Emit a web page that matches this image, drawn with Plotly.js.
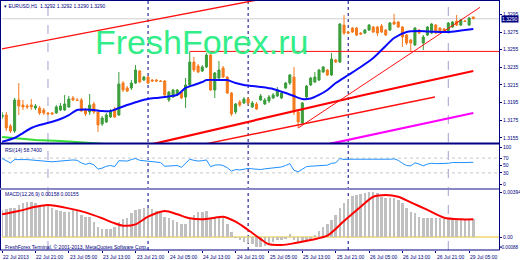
<!DOCTYPE html>
<html><head><meta charset="utf-8">
<script src="https://cdn.plot.ly/plotly-3.0.1.min.js"></script>
<style>html,body{margin:0;padding:0;background:#fff;}#chart{width:520px;height:260px;}</style>
</head><body><div id="chart"></div>
<script>
const symbol = "EURUSD,H1";
const timeLabels = ["22 Jul 2013","22 Jul 21:00","23 Jul 05:00","23 Jul 13:00","23 Jul 21:00","24 Jul 05:00","24 Jul 13:00","24 Jul 21:00","25 Jul 05:00","25 Jul 13:00","25 Jul 21:00","26 Jul 05:00","26 Jul 13:00","26 Jul 21:00","29 Jul 05:00"];
const timeLabelIdx = [0,8,16,24,32,40,48,56,64,72,80,88,96,104,112];
const daySeparators = [11,35,59,83,107];

const open = [1.31788,1.31810,1.31686,1.31629,1.31980,1.31923,1.31912,1.31923,1.31889,1.31889,
1.31867,1.31833,1.31833,1.31833,1.31867,1.31867,1.31901,1.32003,1.31980,1.31980,
1.31867,1.31844,1.31935,1.31844,1.31708,1.31731,1.31788,1.31878,1.31810,1.32172,
1.32116,1.32116,1.32172,1.32308,1.32206,1.32240,1.32206,1.32206,1.32195,1.32195,
1.31980,1.32014,1.32037,1.32070,1.32014,1.32150,1.32410,1.32365,1.32308,1.32354,
1.32489,1.32093,1.32229,1.32342,1.32240,1.32059,1.31844,1.31957,1.31946,1.31991,
1.31901,1.31935,1.31980,1.31935,1.31969,1.32003,1.32025,1.32003,1.32116,1.32172,
1.32240,1.31844,1.31720,1.32014,1.32150,1.32184,1.32206,1.32297,1.32320,1.32263,
1.32433,1.32410,1.32829,1.32750,1.32795,1.32795,1.32738,1.32738,1.32772,1.32806,
1.32806,1.32818,1.32772,1.32772,1.32863,1.32863,1.32806,1.32716,1.32659,1.32603,
1.32772,1.32625,1.32716,1.32738,1.32829,1.32795,1.32784,1.32750,1.32806,1.32874,
1.32829,1.32874,1.32829,1.3292];
const high = [1.31844,1.31844,1.31708,1.32003,1.32172,1.31980,1.31935,1.31991,1.31935,1.31912,
1.31889,1.31844,1.31844,1.31923,1.31946,1.32037,1.32025,1.32025,1.32003,1.32003,
1.31889,1.32048,1.31957,1.31867,1.31799,1.31833,1.31878,1.31901,1.32297,1.32195,
1.32138,1.32206,1.32376,1.32320,1.32252,1.32252,1.32218,1.32218,1.32206,1.32206,
1.32082,1.32104,1.32104,1.32082,1.32229,1.32530,1.32467,1.32387,1.32376,1.32512,
1.32501,1.32297,1.32421,1.32365,1.32252,1.32070,1.31946,1.31980,1.32014,1.32014,
1.31969,1.31957,1.32048,1.32003,1.32037,1.32059,1.32127,1.32082,1.32184,1.32274,
1.32354,1.31867,1.31957,1.32150,1.32240,1.32297,1.32331,1.32365,1.32331,1.32512,
1.32444,1.32852,1.32942,1.32761,1.32806,1.32806,1.32750,1.32784,1.32840,1.32818,
1.32818,1.32840,1.32784,1.32863,1.32954,1.32874,1.32818,1.32727,1.32671,1.32806,
1.32784,1.32716,1.32818,1.32852,1.32840,1.32806,1.32795,1.32863,1.32874,1.32942,
1.32897,1.32886,1.32920,1.3292];
const low = [1.31765,1.31629,1.31606,1.31606,1.31810,1.31867,1.31878,1.31867,1.31867,1.31810,
1.31810,1.31810,1.31810,1.31822,1.31855,1.31855,1.31889,1.31969,1.31969,1.31844,
1.31799,1.31810,1.31822,1.31618,1.31686,1.31720,1.31776,1.31776,1.31799,1.32070,
1.32070,1.32093,1.32161,1.32172,1.32195,1.32161,1.32184,1.32184,1.32184,1.32025,
1.31957,1.32003,1.32025,1.31991,1.31889,1.32138,1.32297,1.32286,1.32297,1.32342,
1.32082,1.32003,1.32206,1.32229,1.32048,1.31799,1.31822,1.31901,1.31935,1.31923,
1.31889,1.31867,1.31969,1.31923,1.31946,1.31991,1.32014,1.31991,1.32104,1.32150,
1.31810,1.31663,1.31708,1.31980,1.32138,1.32172,1.32195,1.32286,1.32252,1.32252,
1.32399,1.32399,1.32716,1.32727,1.32738,1.32704,1.32716,1.32727,1.32761,1.32738,
1.32704,1.32738,1.32704,1.32761,1.32829,1.32795,1.32580,1.32603,1.32523,1.32591,
1.32727,1.32546,1.32704,1.32727,1.32727,1.32738,1.32750,1.32738,1.32795,1.32818,
1.32818,1.32863,1.32818,1.3290];
const close = [1.31810,1.31663,1.31629,1.31980,1.31912,1.31901,1.31901,1.31901,1.31912,1.31833,
1.31833,1.31822,1.31822,1.31901,1.31912,1.31935,1.31991,1.31980,1.31975,1.31855,
1.31822,1.31923,1.31844,1.31697,1.31776,1.31810,1.31855,1.31788,1.32161,1.32093,
1.32082,1.32172,1.32320,1.32184,1.32240,1.32172,1.32195,1.32195,1.32190,1.32037,
1.32070,1.32093,1.32093,1.32003,1.32150,1.32410,1.32320,1.32297,1.32354,1.32489,
1.32093,1.32286,1.32320,1.32240,1.32059,1.31822,1.31935,1.31923,1.31991,1.31946,
1.31946,1.31878,1.32025,1.31980,1.32014,1.32037,1.32093,1.32059,1.32172,1.32263,
1.31844,1.31731,1.31946,1.32138,1.32229,1.32240,1.32320,1.32354,1.32263,1.32444,
1.32410,1.32840,1.32738,1.32738,1.32750,1.32716,1.32727,1.32772,1.32829,1.32750,
1.32738,1.32750,1.32716,1.32852,1.32840,1.32806,1.32693,1.32625,1.32625,1.32795,
1.32738,1.32693,1.32806,1.32840,1.32738,1.32750,1.32761,1.32852,1.32863,1.32829,
1.32886,1.32869,1.32908,1.3290];

const blueMaIdx = [0,3,5,7,9,12,14,16,18,20,22,24,26,28,30,33,35,37,39,42,44,46,48,49,52,54,56,58,60,62,65,68,70,72,74,76,78,80,83,86,89,91,94,97,100,102,105,107,110,113];
const blueMaVal = [1.31508,1.31550,1.31606,1.31663,1.31697,1.31734,1.31765,1.31810,1.31867,1.31872,1.31867,1.31855,1.31855,1.31889,1.31923,1.31969,1.31991,1.32003,1.32014,1.32037,1.32116,1.32150,1.32184,1.32206,1.32206,1.32206,1.32172,1.32150,1.32138,1.32127,1.32105,1.32059,1.32025,1.31991,1.31997,1.32037,1.32093,1.32172,1.32263,1.32354,1.32455,1.32546,1.32682,1.32750,1.32761,1.32755,1.32750,1.32750,1.32767,1.32784];
const greenMaIdx = [0,4,8,14,21,25];
const greenMaVal = [1.31561,1.31544,1.31527,1.31516,1.31499,1.31482];
const redMaIdx = [36,62,87,113];
const redMaVal = [1.31480,1.31765,1.32040,1.32308];
const magentaMaIdx = [78,95,113];
const magentaMaVal = [1.31478,1.31652,1.31833];

const channelTopIdx = [-1,62];
const channelTopVal = [1.32550,1.33120];
const channelLowIdx = [48.7,103.8];
const channelLowVal = [1.31482,1.32014];
const trendIdx = [71,114.6];
const trendVal = [1.31663,1.33029];
const resistanceIdx = [45,119.2];
const resistanceVal = [1.32530,1.32530];

const rsi = [69,62,57,66,67,66,66,65,65,63,
62,60,60,61,62,64,65,65,64,57,
53,56,52,40,43,48,50,47,63,62,
62,66,69,64,63,63,62,61,58,48,
49,50,50,45,56,67,64,62,63,65,
47,51,52,50,44,35,39,38,40,42,
41,40,39,41,42,43,45,46,50,55,
37,33,40,47,48,49,51,52,51,56,
57,69,66,67,67,66,66,66,67,66,
66,66,65,67,68,64,56,50,49,57,
54,49,54,56,55,55,55,56,58,57,
58,58,59,58.74];
const rsiLevels = [70,30];
const rsiTicks = [100,70,50,30,0];

const macdHist = [0.00237,0.00245,0.00251,0.00257,0.00280,0.00295,0.00304,0.00304,0.00295,0.00280,
0.00280,0.00274,0.00257,0.00237,0.00228,0.00216,0.00222,0.00237,0.00228,0.00193,
0.00172,0.00172,0.00134,0.00091,0.00070,0.00067,0.00067,0.00091,0.00134,0.00155,
0.00169,0.00207,0.00237,0.00245,0.00251,0.00251,0.00242,0.00228,0.00207,0.00178,
0.00164,0.00149,0.00134,0.00111,0.00111,0.00169,0.00193,0.00216,0.00222,0.00228,
0.00169,0.00164,0.00164,0.00164,0.00111,0.00047,-0.00006,-0.00026,-0.00041,-0.00055,
-0.00064,-0.00085,-0.00085,-0.00076,-0.00055,-0.00047,-0.00026,-0.00026,-0.00018,0.00023,
-0.00026,-0.00055,-0.00047,-0.00026,-0.00015,0.00015,0.00053,0.00091,0.00111,0.00149,
0.00193,0.00251,0.00295,0.00333,0.00362,0.00368,0.00374,0.00383,0.00391,0.00391,
0.00383,0.00353,0.00344,0.00344,0.00339,0.00324,0.00295,0.00251,0.00216,0.00207,
0.00178,0.00169,0.00169,0.00164,0.00164,0.00164,0.00158,0.00158,0.00158,0.00152,
0.00155,0.00158,0.00158,0.00158];
const signalIdx = [0,4,8,11,16,20,24,27,29,32,35,39,42,45,48,51,53,56,59,62,64,67,70,74,78,82,86,89,92,95,98,102,106,110,113];
const signalVal = [0.00199,0.00228,0.00265,0.00280,0.00251,0.00216,0.00164,0.00120,0.00099,0.00111,0.00178,0.00228,0.00199,0.00164,0.00155,0.00169,0.00178,0.00134,0.00061,-0.00018,-0.00064,-0.00070,-0.00055,-0.00026,0.00011,0.00140,0.00265,0.00353,0.00368,0.00353,0.00304,0.00237,0.00169,0.00155,0.00155];

const priceTicks = [1.3295,1.3275,1.3255,1.3235,1.3215,1.3195,1.3175,1.3155];
const macdTicks = [0.00394,0];
const macdTickText = ["0.00394","0.00"];
const macdMin = -0.00088;
const macdMinText = "-0.00088";

// ---- drawing ----
const NAVY = '#000080';
const F = 'Liberation Sans, Arial, sans-serif';
const idx = close.map((_, i) => i);
const last = close.length - 1;
const pxX = p => (p - 2) / 497;
const pxY = p => (250 - p) / 249;

const traces = [
  {type:'scatter', mode:'lines', x:greenMaIdx, y:greenMaVal, line:{color:'#33dd33', width:2}, hoverinfo:'skip'},
  {type:'scatter', mode:'lines', x:magentaMaIdx, y:magentaMaVal, line:{color:'#ff00ff', width:2.2}, hoverinfo:'skip'},
  {type:'scatter', mode:'lines', x:redMaIdx, y:redMaVal, line:{color:'#ff0000', width:2.2}, hoverinfo:'skip'},
  {type:'scatter', mode:'lines', x:channelLowIdx, y:channelLowVal, line:{color:'#ff1010', width:1.4}, hoverinfo:'skip'},
  {type:'scatter', mode:'lines', x:channelTopIdx, y:channelTopVal, line:{color:'#ff1010', width:1.4}, hoverinfo:'skip'},
  {type:'scatter', mode:'lines', x:trendIdx, y:trendVal, line:{color:'#ff1010', width:1}, hoverinfo:'skip'},
  {type:'scatter', mode:'lines', x:resistanceIdx, y:resistanceVal, line:{color:'#ff1010', width:1}, hoverinfo:'skip'},
  {type:'candlestick', x:idx, open:open, high:high, low:low, close:close, whiskerwidth:0,
   increasing:{line:{color:'#3a9d3a', width:1}, fillcolor:'#3a9d3a'},
   decreasing:{line:{color:'#f57a1e', width:1}, fillcolor:'#f57a1e'}, hoverinfo:'skip'},
  {type:'scatter', mode:'lines', x:blueMaIdx, y:blueMaVal, line:{color:'#0a0aff', width:2, shape:'spline', smoothing:0.6}, hoverinfo:'skip'},
  {type:'scatter', mode:'lines', x:idx, y:rsi, yaxis:'y2', line:{color:'#1e90ff', width:1}, hoverinfo:'skip'},
  {type:'bar', x:idx, y:macdHist, yaxis:'y3', marker:{color:'#c0c0c0'}, width:0.6, hoverinfo:'skip'},
  {type:'scatter', mode:'lines', x:signalIdx, y:signalVal, yaxis:'y3', line:{color:'#ff0000', width:2, shape:'spline', smoothing:0.8}, hoverinfo:'skip'}
];

const axisCommon = {side:'right', ticks:'outside', ticklen:2, tickwidth:1, tickcolor:NAVY,
  tickfont:{family:F, size:5, color:NAVY}, showgrid:false, zeroline:false, showline:false, automargin:false, fixedrange:true};

const shapes = [];
daySeparators.forEach((d, k) => {
  const light = (k === 0 || k === daySeparators.length - 1);
  shapes.push({type:'line', xref:'x', yref:'paper', x0:d, x1:d, y0:0, y1:1, layer:'below',
    line:{color: light ? '#a0a0d0' : NAVY, width:1, dash: light ? 'dash' : 'dot'}});
});
rsiLevels.forEach(v => shapes.push({type:'line', xref:'paper', yref:'y2', x0:0, x1:1, y0:v, y1:v, layer:'below', line:{color:'#c8c8c8', width:1, dash:'dot'}}));
shapes.push({type:'line', xref:'paper', yref:'y', x0:0, x1:1, y0:close[last], y1:close[last], layer:'below', line:{color:'#d0d0d0', width:1}});
shapes.push({type:'line', xref:'paper', yref:'y3', x0:0, x1:1, y0:0, y1:0, layer:'below', line:{color:'#f2d66a', width:1.5}});
shapes.push({type:'line', xref:'paper', yref:'y3', x0:1, x1:pxX(502), y0:macdMin, y1:macdMin, line:{color:NAVY, width:1}});
// frames
shapes.push({type:'line', xref:'paper', yref:'paper', x0:pxX(0.5), x1:pxX(0.5), y0:pxY(250), y1:pxY(0), line:{color:NAVY, width:1}});
shapes.push({type:'line', xref:'paper', yref:'paper', x0:pxX(0), x1:pxX(499.5), y0:pxY(0.5), y1:pxY(0.5), line:{color:NAVY, width:1}});
shapes.push({type:'line', xref:'paper', yref:'paper', x0:pxX(0), x1:pxX(499.5), y0:pxY(143.5), y1:pxY(143.5), line:{color:NAVY, width:2}});
shapes.push({type:'line', xref:'paper', yref:'paper', x0:pxX(0), x1:pxX(499.5), y0:pxY(189), y1:pxY(189), line:{color:'#8888c4', width:2}});
shapes.push({type:'line', xref:'paper', yref:'paper', x0:pxX(499.5), x1:pxX(499.5), y0:pxY(250), y1:pxY(0), line:{color:NAVY, width:1}});
shapes.push({type:'line', xref:'paper', yref:'paper', x0:pxX(0), x1:pxX(499.5), y0:pxY(250), y1:pxY(250), line:{color:NAVY, width:1}});

const small = {family:F, size:5, color:NAVY};
const annotations = [
  {xref:'paper', yref:'paper', x:pxX(2), y:pxY(6), xanchor:'left', yanchor:'middle', showarrow:false, font:small,
   text:'\u25BE ' + symbol + '  ' + open[last].toFixed(4) + ' ' + high[last].toFixed(4) + ' ' + low[last].toFixed(4) + ' ' + close[last].toFixed(4)},
  {xref:'paper', yref:'paper', x:pxX(201.5), y:pxY(42), xanchor:'center', yanchor:'middle', showarrow:false,
   font:{family:F, size:34, color:'#33ee88'}, text:'FreshForex.ru'},
  {xref:'paper', yref:'paper', x:pxX(3), y:pxY(149.5), xanchor:'left', yanchor:'middle', showarrow:false, font:small,
   text:'RSI(14) ' + rsi[last].toFixed(4)},
  {xref:'paper', yref:'paper', x:pxX(3), y:pxY(194), xanchor:'left', yanchor:'middle', showarrow:false, font:small,
   text:'MACD(12,26,9) ' + macdHist[last].toFixed(5) + ' ' + signalVal[signalVal.length-1].toFixed(5)},
  {xref:'paper', yref:'paper', x:pxX(3), y:pxY(246.5), xanchor:'left', yanchor:'middle', showarrow:false, font:small,
   text:'FreshForex Terminal, \u00A9 2001-2013, MetaQuotes Software Corp.'},
  {xref:'paper', yref:'y', x:pxX(501), y:close[last], xanchor:'left', yanchor:'middle', showarrow:false,
   font:{family:F, size:5, color:'#ffffff'}, bgcolor:NAVY, borderpad:0, text:close[last].toFixed(4)},
  {xref:'paper', yref:'y3', x:pxX(519.5), y:macdMin, xanchor:'right', yanchor:'middle', showarrow:false,
   font:{family:F, size:4.6, color:NAVY}, borderpad:0, text:macdMinText}
];
timeLabels.forEach((t, k) => annotations.push({xref:'x', yref:'paper', x:timeLabelIdx[k], y:0, xanchor:'left', yanchor:'top',
  yshift:-2, xshift:-1, showarrow:false, font:small, text:t}));

const layout = {
  width:520, height:260, margin:{l:2, r:21, t:1, b:10, pad:0},
  paper_bgcolor:'#ffffff', plot_bgcolor:'#ffffff', showlegend:false, font:small,
  bargap:0,
  xaxis:{range:[-0.024,119.16], anchor:'y3', tickvals:timeLabelIdx, ticks:'outside', ticklen:2, tickcolor:NAVY,
    showticklabels:false, showgrid:false, zeroline:false, showline:false, rangeslider:{visible:false}, fixedrange:true, automargin:false},
  yaxis:Object.assign({}, axisCommon, {domain:[pxY(143), 1], range:[1.31493,1.33101], tickvals:priceTicks, ticktext:priceTicks.map(v=>v.toFixed(4))}),
  yaxis2:Object.assign({}, axisCommon, {domain:[pxY(188), pxY(145)], range:[-10.8,105.4], tickvals:rsiTicks, ticktext:rsiTicks.map(String)}),
  yaxis3:Object.assign({}, axisCommon, {domain:[0, pxY(190)], range:[-0.00114,0.00412], tickvals:macdTicks, ticktext:macdTickText}),
  shapes:shapes, annotations:annotations
};
Plotly.newPlot('chart', traces, layout, {staticPlot:true, displayModeBar:false});
</script></body></html>
